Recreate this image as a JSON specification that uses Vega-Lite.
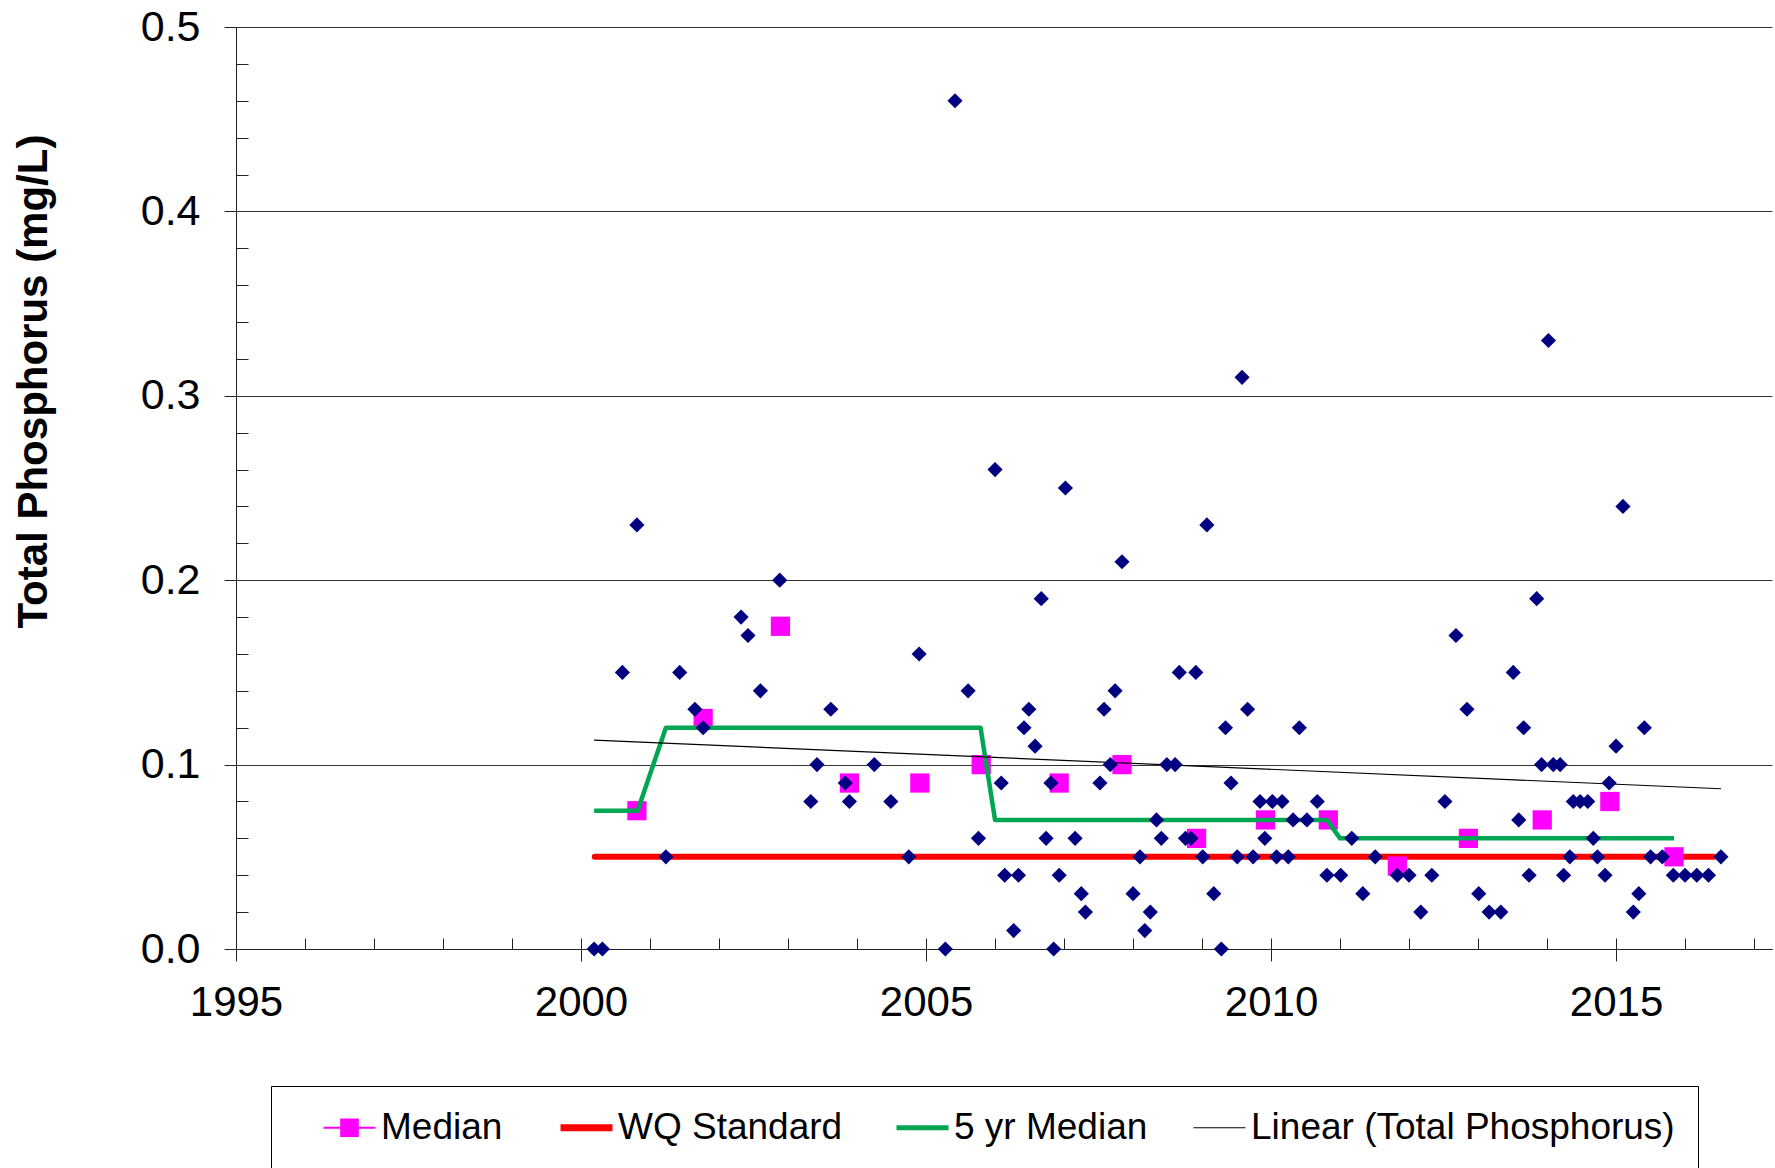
{
  "$schema": "https://vega.github.io/schema/vega-lite/v6.json",
  "width": 1536,
  "height": 922,
  "autosize": {"type": "none"},
  "padding": {"left": 236, "top": 27, "right": 3, "bottom": 219},
  "background": "white",
  "config": {
    "view": {"stroke": null},
    "font": "Liberation Sans",
    "axis": {"labelFont": "Liberation Sans", "titleFont": "Liberation Sans", "labelColor": "black", "titleColor": "black", "domainColor": "#222", "tickColor": "#222", "domainWidth": 1, "tickWidth": 1}
  },
  "datasets": {
    "samples": [
      {"year": 2000.19, "tp": 0}, {"year": 2000.31, "tp": 0}, {"year": 2000.60, "tp": 0.15}, {"year": 2000.81, "tp": 0.23},
      {"year": 2001.23, "tp": 0.05}, {"year": 2001.43, "tp": 0.15}, {"year": 2001.65, "tp": 0.13}, {"year": 2001.77, "tp": 0.12},
      {"year": 2002.32, "tp": 0.18}, {"year": 2002.42, "tp": 0.17}, {"year": 2002.60, "tp": 0.14}, {"year": 2002.88, "tp": 0.20},
      {"year": 2003.33, "tp": 0.08}, {"year": 2003.42, "tp": 0.10}, {"year": 2003.62, "tp": 0.13}, {"year": 2003.83, "tp": 0.09},
      {"year": 2003.89, "tp": 0.08}, {"year": 2004.25, "tp": 0.10}, {"year": 2004.49, "tp": 0.08}, {"year": 2004.75, "tp": 0.05},
      {"year": 2004.90, "tp": 0.16}, {"year": 2005.28, "tp": 0}, {"year": 2005.42, "tp": 0.46}, {"year": 2005.61, "tp": 0.14},
      {"year": 2005.76, "tp": 0.06}, {"year": 2006.00, "tp": 0.26}, {"year": 2006.09, "tp": 0.09}, {"year": 2006.14, "tp": 0.04},
      {"year": 2006.27, "tp": 0.01}, {"year": 2006.34, "tp": 0.04}, {"year": 2006.42, "tp": 0.12}, {"year": 2006.49, "tp": 0.13},
      {"year": 2006.58, "tp": 0.11}, {"year": 2006.67, "tp": 0.19}, {"year": 2006.74, "tp": 0.06}, {"year": 2006.81, "tp": 0.09},
      {"year": 2006.85, "tp": 0}, {"year": 2006.93, "tp": 0.04}, {"year": 2007.02, "tp": 0.25}, {"year": 2007.16, "tp": 0.06},
      {"year": 2007.25, "tp": 0.03}, {"year": 2007.31, "tp": 0.02}, {"year": 2007.52, "tp": 0.09}, {"year": 2007.58, "tp": 0.13},
      {"year": 2007.67, "tp": 0.10}, {"year": 2007.74, "tp": 0.14}, {"year": 2007.84, "tp": 0.21}, {"year": 2008.00, "tp": 0.03},
      {"year": 2008.10, "tp": 0.05}, {"year": 2008.17, "tp": 0.01}, {"year": 2008.25, "tp": 0.02}, {"year": 2008.34, "tp": 0.07},
      {"year": 2008.41, "tp": 0.06}, {"year": 2008.49, "tp": 0.10}, {"year": 2008.61, "tp": 0.10}, {"year": 2008.67, "tp": 0.15},
      {"year": 2008.76, "tp": 0.06}, {"year": 2008.84, "tp": 0.06}, {"year": 2008.91, "tp": 0.15}, {"year": 2009.01, "tp": 0.05},
      {"year": 2009.07, "tp": 0.23}, {"year": 2009.17, "tp": 0.03}, {"year": 2009.28, "tp": 0}, {"year": 2009.34, "tp": 0.12},
      {"year": 2009.42, "tp": 0.09}, {"year": 2009.51, "tp": 0.05}, {"year": 2009.58, "tp": 0.31}, {"year": 2009.66, "tp": 0.13},
      {"year": 2009.74, "tp": 0.05}, {"year": 2009.84, "tp": 0.08}, {"year": 2009.91, "tp": 0.06}, {"year": 2010.02, "tp": 0.08},
      {"year": 2010.08, "tp": 0.05}, {"year": 2010.16, "tp": 0.08}, {"year": 2010.25, "tp": 0.05}, {"year": 2010.32, "tp": 0.07},
      {"year": 2010.41, "tp": 0.12}, {"year": 2010.52, "tp": 0.07}, {"year": 2010.67, "tp": 0.08}, {"year": 2010.81, "tp": 0.04},
      {"year": 2011.01, "tp": 0.04}, {"year": 2011.17, "tp": 0.06}, {"year": 2011.33, "tp": 0.03}, {"year": 2011.51, "tp": 0.05},
      {"year": 2011.83, "tp": 0.04}, {"year": 2012.00, "tp": 0.04}, {"year": 2012.17, "tp": 0.02}, {"year": 2012.33, "tp": 0.04},
      {"year": 2012.52, "tp": 0.08}, {"year": 2012.68, "tp": 0.17}, {"year": 2012.84, "tp": 0.13}, {"year": 2013.01, "tp": 0.03},
      {"year": 2013.16, "tp": 0.02}, {"year": 2013.33, "tp": 0.02}, {"year": 2013.51, "tp": 0.15}, {"year": 2013.59, "tp": 0.07},
      {"year": 2013.66, "tp": 0.12}, {"year": 2013.74, "tp": 0.04}, {"year": 2013.85, "tp": 0.19}, {"year": 2013.92, "tp": 0.10},
      {"year": 2014.02, "tp": 0.33}, {"year": 2014.09, "tp": 0.10}, {"year": 2014.19, "tp": 0.10}, {"year": 2014.24, "tp": 0.04},
      {"year": 2014.33, "tp": 0.05}, {"year": 2014.38, "tp": 0.08}, {"year": 2014.48, "tp": 0.08}, {"year": 2014.59, "tp": 0.08},
      {"year": 2014.67, "tp": 0.06}, {"year": 2014.73, "tp": 0.05}, {"year": 2014.84, "tp": 0.04}, {"year": 2014.90, "tp": 0.09},
      {"year": 2015.00, "tp": 0.11}, {"year": 2015.10, "tp": 0.24}, {"year": 2015.25, "tp": 0.02}, {"year": 2015.33, "tp": 0.03},
      {"year": 2015.41, "tp": 0.12}, {"year": 2015.50, "tp": 0.05}, {"year": 2015.67, "tp": 0.05}, {"year": 2015.83, "tp": 0.04},
      {"year": 2016.00, "tp": 0.04}, {"year": 2016.17, "tp": 0.04}, {"year": 2016.34, "tp": 0.04}, {"year": 2016.52, "tp": 0.05}
    ],
    "medians": [
      {"year": 2000.81, "tp": 0.075, "series": "Median"}, {"year": 2001.77, "tp": 0.125, "series": "Median"},
      {"year": 2002.89, "tp": 0.175, "series": "Median"}, {"year": 2003.89, "tp": 0.09, "series": "Median"},
      {"year": 2004.91, "tp": 0.09, "series": "Median"}, {"year": 2005.80, "tp": 0.10, "series": "Median"},
      {"year": 2006.93, "tp": 0.09, "series": "Median"}, {"year": 2007.84, "tp": 0.10, "series": "Median"},
      {"year": 2008.92, "tp": 0.06, "series": "Median"}, {"year": 2009.92, "tp": 0.07, "series": "Median"},
      {"year": 2010.83, "tp": 0.07, "series": "Median"}, {"year": 2011.83, "tp": 0.045, "series": "Median"},
      {"year": 2012.86, "tp": 0.06, "series": "Median"}, {"year": 2013.93, "tp": 0.07, "series": "Median"},
      {"year": 2014.91, "tp": 0.08, "series": "Median"}, {"year": 2015.84, "tp": 0.05, "series": "Median"}
    ],
    "standard": [
      {"year": 2000.2, "tp": 0.05, "series": "WQ Standard"}, {"year": 2016.42, "tp": 0.05, "series": "WQ Standard"}
    ],
    "fiveyr": [
      {"year": 2000.19, "tp": 0.075, "series": "5 yr Median"}, {"year": 2000.82, "tp": 0.075, "series": "5 yr Median"},
      {"year": 2001.23, "tp": 0.12, "series": "5 yr Median"}, {"year": 2005.79, "tp": 0.12, "series": "5 yr Median"},
      {"year": 2006.00, "tp": 0.07, "series": "5 yr Median"}, {"year": 2010.81, "tp": 0.07, "series": "5 yr Median"},
      {"year": 2011.00, "tp": 0.06, "series": "5 yr Median"}, {"year": 2015.84, "tp": 0.06, "series": "5 yr Median"}
    ],
    "trend": [
      {"year": 2000.19, "tp": 0.1133, "series": "Linear (Total Phosphorus)"}, {"year": 2016.52, "tp": 0.0869, "series": "Linear (Total Phosphorus)"}
    ]
  },
  "layer": [
    {
      "data": {"name": "standard"},
      "mark": {"type": "line", "strokeWidth": 6, "strokeCap": "round"},
      "encoding": {
        "x": {"field": "year", "type": "quantitative", "scale": {"domain": [1995, 2017.26], "nice": false, "zero": false},
          "axis": {"orient": "bottom", "values": [1995,1996,1997,1998,1999,2000,2001,2002,2003,2004,2005,2006,2007,2008,2009,2010,2011,2012,2013,2014,2015,2016,2017], "labels": false, "domain": false, "grid": false, "title": null, "tickSize": -11}},
        "y": {"field": "tp", "type": "quantitative", "scale": {"domain": [0, 0.5], "nice": false, "zero": true},
          "axis": {"orient": "left", "values": [0.02,0.04,0.06,0.08,0.12,0.14,0.16,0.18,0.22,0.24,0.26,0.28,0.32,0.34,0.36,0.38,0.42,0.44,0.46,0.48], "labels": false, "domain": false, "grid": false, "title": null, "tickSize": -12}},
        "color": {"field": "series", "type": "nominal",
          "scale": {"domain": ["Median", "WQ Standard", "5 yr Median", "Linear (Total Phosphorus)"], "range": ["#FF00FF", "#FF0000", "#00A651", "#000000"]},
          "legend": {
            "orient": "none", "legendX": 35, "legendY": 1059, "direction": "horizontal", "columns": 4,
            "title": " ", "titleOrient": "left", "titleFontSize": 37, "titlePadding": 37,
            "padding": 23, "strokeColor": "black", "fillColor": "white",
            "labelFont": "Liberation Sans", "labelFontSize": 37, "labelColor": "black", "labelLimit": 900, "labelOffset": 13,
            "columnPadding": 43,
            "symbolType": "stroke", "symbolSize": 2704, "symbolStrokeWidth": 2, "symbolOpacity": 1,
            "encode": {"symbols": {"update": {
              "shape": {"signal": "datum.value === 'Median' ? 'M-1,0H1M-0.32,-0.32H0.32V0.32H-0.32Z' : 'stroke'"},
              "strokeWidth": {"signal": "datum.value === 'WQ Standard' ? 7 : datum.value === '5 yr Median' ? 5 : datum.value === 'Median' ? 2 : 1.2"},
              "stroke": {"signal": "scale('color', datum.value)"},
              "fill": {"signal": "datum.value === 'Median' ? '#FF00FF' : 'transparent'"},
              "fillOpacity": {"value": 1},
              "strokeOpacity": {"value": 1},
              "opacity": {"value": 1}
            }}}
          }
        }
      }
    },
    {
      "data": {"name": "medians"},
      "mark": {"type": "point", "shape": "square", "filled": true, "size": 370, "opacity": 1},
      "encoding": {
        "x": {"field": "year", "type": "quantitative", "axis": null},
        "y": {"field": "tp", "type": "quantitative", "axis": null},
        "color": {"field": "series", "type": "nominal"}
      }
    },
    {
      "data": {"name": "fiveyr"},
      "mark": {"type": "line", "strokeWidth": 4.5, "strokeJoin": "round"},
      "encoding": {
        "x": {"field": "year", "type": "quantitative", "axis": null},
        "y": {"field": "tp", "type": "quantitative", "axis": null},
        "color": {"field": "series", "type": "nominal"}
      }
    },
    {
      "data": {"name": "trend"},
      "mark": {"type": "line", "strokeWidth": 1.2},
      "encoding": {
        "x": {"field": "year", "type": "quantitative", "axis": null},
        "y": {"field": "tp", "type": "quantitative", "axis": null},
        "color": {"field": "series", "type": "nominal"}
      }
    },
    {
      "data": {"name": "samples"},
      "mark": {"type": "point", "shape": "diamond", "filled": true, "size": 230, "color": "#000080", "opacity": 1},
      "encoding": {
        "x": {"field": "year", "type": "quantitative",
          "axis": {"orient": "bottom", "values": [1995, 2000, 2005, 2010, 2015], "format": "d", "title": null, "grid": false,
            "tickSize": 12, "labelFontSize": 42, "labelPadding": 21, "labelFlush": false, "labelOverlap": false, "domain": true}},
        "y": {"field": "tp", "type": "quantitative",
          "axis": {"orient": "left", "values": [0, 0.1, 0.2, 0.3, 0.4, 0.5], "format": ".1f", "grid": true, "gridColor": "#333", "gridWidth": 1, "gridOpacity": 1,
            "tickSize": 12, "labelFontSize": 43, "labelPadding": 24, "labelFlush": false, "labelOverlap": false, "domain": true,
            "title": "Total Phosphorus (mg/L)", "titleFontSize": 42, "titleFontWeight": "bold", "titleAngle": -90,
            "titleX": -190, "titleY": 354, "titleAlign": "center", "titleBaseline": "alphabetic"}}
      }
    }
  ],
  "resolve": {"axis": {"x": "independent", "y": "independent"}}
}
